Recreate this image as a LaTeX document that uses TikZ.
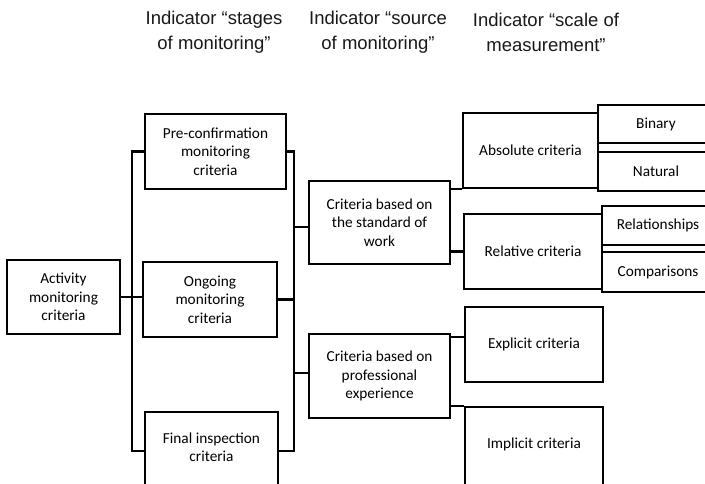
\documentclass[tikz,border=0pt]{standalone}
\usepackage{fontspec}
\setmainfont{Carlito}
\newfontfamily\headfont{Liberation Sans}
\begin{document}
\begin{tikzpicture}[x=1pt,y=-1pt,
  box/.style={draw=black,line width=2.2pt,inner sep=0pt,align=center,
    font=\fontsize{15.3}{18.5}\selectfont,text=black},
  boxtext/.style={font=\fontsize{15.3}{18.5}\selectfont,align=center,text=black},
  head/.style={align=center,font=\headfont\fontsize{18.5}{25}\selectfont,text=black!90},
  link/.style={draw=black,line width=2.2pt}]
\useasboundingbox (0,0) rectangle (705,483);
\clip (0,0) rectangle (705,483);
% headers
\node[head] (h1) at (214,32) {Indicator “stages\\ of monitoring”};
\node[head] (h2) at (378,32) {Indicator “source\\ of monitoring”};
\node[head] (h3) at (546,32) {Indicator “scale of\\ measurement”};
% boxes
\node[box,minimum width=113,minimum height=74] (act) at (63.5,297) {Activity\\ monitoring\\ criteria};
\node[box,minimum width=141,minimum height=75] (pre) at (215.5,151.5) {Pre-confirmation\\ monitoring\\ criteria};
\node[box,minimum width=134,minimum height=75] (ong) at (210,299.5) {Ongoing\\ monitoring\\ criteria};
\node[box,minimum width=133,minimum height=78] (fin) at (211.5,451) {};
\node[boxtext] (fint) at (211.5,447) {Final inspection\\ criteria};
\node[box,minimum width=141,minimum height=83] (std) at (379.5,222.5) {Criteria based on\\ the standard of\\ work};
\node[box,minimum width=141,minimum height=84] (prof) at (379.5,376) {Criteria based on\\ professional\\ experience};
\node[box,minimum width=135,minimum height=75] (abs) at (530.5,150.5) {Absolute criteria};
\node[box,minimum width=138,minimum height=75] (rel) at (533,251.5) {Relative criteria};
\node[box,minimum width=138,minimum height=75] (exp) at (534,344.5) {Explicit criteria};
\node[box,minimum width=138,minimum height=78] (imp) at (534,446) {};
\node[boxtext] (impt) at (534,444) {Implicit criteria};
\node[box,minimum width=116,minimum height=38] (bin) at (656,124) {Binary};
\node[box,minimum width=116,minimum height=39] (nat) at (656,171.5) {Natural};
\node[box,minimum width=112,minimum height=39] (rsh) at (658,225.5) {Relationships};
\node[box,minimum width=112,minimum height=40] (cmp) at (658,272) {Comparisons};
% left bracket
\coordinate (lb) at (132,0);
\draw[link] (act.east) -- (act.east -| ong.west);
\draw[link] (pre.west) -- (pre.west -| lb) -- (lb |- fin.west) -- (fin.west);
% right bracket
\coordinate (rb) at (294,0);
\draw[link] (pre.east) -- (pre.east -| rb) -- (rb |- fin.east) -- (fin.east);
\draw[link] (ong.east) -- (ong.east -| rb);
\coordinate (sj) at (0,227);
\coordinate (pj) at (0,373);
\draw[link] (sj -| rb) -- (sj -| std.west);
\draw[link] (pj -| rb) -- (pj -| prof.west);
% right side connectors
\draw[link] (abs.south west) -- (abs.south west -| std.east);
\draw[link] (rel.west) -- (rel.west -| std.east);
\coordinate (pe) at (0,337);
\draw[link] (pe -| prof.east) -- (pe -| exp.west);
\draw[link] (imp.north west) -- (imp.north west -| prof.east);
\end{tikzpicture}
\end{document}
